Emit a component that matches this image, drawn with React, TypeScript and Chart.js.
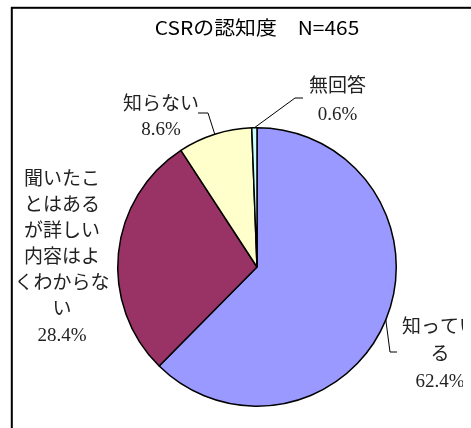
import React, { useEffect, useRef } from "react";
import { Chart, registerables } from "chart.js";

Chart.register(...registerables);

const titleText = "CSRの認知度　N=465";
const categories = [
  "知っている",
  "聞いたことはあるが詳しい内容はよくわからない",
  "知らない",
  "無回答",
];
const shares = [62.4, 28.4, 8.6, 0.6];
const sliceColors = ["#9999FF", "#993366", "#FFFFCC", "#CCFFFF"];
const labelLines = [
  ["知ってい", "る"],
  ["聞いたこ", "とはある", "が詳しい", "内容はよ", "くわからな", "い"],
  ["知らない"],
  ["無回答"],
];

// label placement relative to the pie centre (px)
const labelLayout = [
  { dx: 183, dy: 61, lh: 27, leader: [[133, 85], [140, 85]], clipRight: 463 },
  { dx: -195, dy: -87, lh: 26, leader: null, clipRight: 0 },
  { dx: -96, dy: -162, lh: 25, leader: [[-49, -154], [-59, -154]], clipRight: 0 },
  { dx: 80.5, dy: -180, lh: 28, leader: [[38, -169], [46, -169]], clipRight: 0 },
];

const labelFont = '19px "Liberation Serif", "Noto Sans CJK JP", serif';
const titleFont = '19px "Noto Sans CJK JP", sans-serif';

const decorPlugin = {
  id: "decor",
  afterDraw(chart: any) {
    const ctx = chart.ctx as CanvasRenderingContext2D;
    const meta = chart.getDatasetMeta(0);
    const area = chart.chartArea;
    ctx.save();
    // frame
    ctx.strokeStyle = "#000";
    ctx.lineWidth = 2;
    ctx.strokeRect(11.8, 7.8, 1000, 1000);

    // title
    ctx.save();
    ctx.fillStyle = "#000";
    ctx.font = titleFont;
    ctx.textAlign = "center";
    ctx.textBaseline = "middle";
    ctx.translate((area.left + area.right) / 2, 28);
    ctx.scale(1.1, 1);
    ctx.fillText(titleText, 0, 0);
    ctx.restore();

    meta.data.forEach((arc: any, i: number) => {
      const p = arc.getProps(["x", "y", "startAngle", "endAngle", "outerRadius"], true);
      const cx = p.x;
      const cy = p.y;
      const lay = labelLayout[i];
      const mid = (p.startAngle + p.endAngle) / 2;
      if (lay.leader) {
        ctx.beginPath();
        ctx.strokeStyle = "#000";
        ctx.lineWidth = 1;
        ctx.moveTo(cx + p.outerRadius * Math.cos(mid), cy + p.outerRadius * Math.sin(mid));
        lay.leader.forEach((pt) => ctx.lineTo(cx + pt[0], cy + pt[1]));
        ctx.stroke();
      }
      const lines = [...labelLines[i], shares[i].toFixed(1) + "%"];
      ctx.save();
      if (lay.clipRight) {
        ctx.beginPath();
        ctx.rect(0, 0, lay.clipRight, 1000);
        ctx.clip();
      }
      ctx.fillStyle = "#222";
      ctx.font = labelFont;
      ctx.textAlign = "center";
      ctx.textBaseline = "middle";
      lines.forEach((ln, k) => {
        ctx.fillText(ln, cx + lay.dx, cy + lay.dy + k * lay.lh);
      });
      ctx.restore();
    });
    ctx.restore();
  },
};

export default function App() {
  const ref = useRef<HTMLCanvasElement | null>(null);
  useEffect(() => {
    if (!ref.current) return;
    const chart = new Chart(ref.current, {
      type: "pie",
      data: {
        labels: categories,
        datasets: [
          {
            data: shares,
            backgroundColor: sliceColors,
            borderColor: "#000",
            borderWidth: 1.5,
          },
        ],
      },
      options: {
        responsive: false,
        animation: false,
        layout: { padding: { left: 117, right: 74, top: 127, bottom: 21 } },
        plugins: {
          legend: { display: false },
          tooltip: { enabled: false },
          title: { display: false },
        },
      },
      plugins: [decorPlugin],
    });
    return () => chart.destroy();
  }, []);
  return (
    <div style={{ position: "absolute", left: 0, top: 0, width: 471, height: 428, background: "#fff" }}>
      <canvas ref={ref} width={471} height={428} />
    </div>
  );
}
